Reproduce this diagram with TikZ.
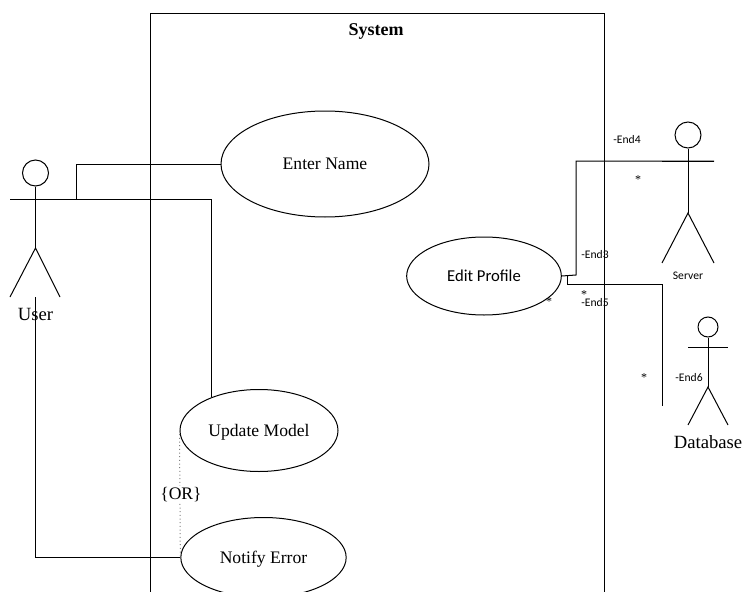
\documentclass[tikz,border=0pt]{standalone}
\usepackage{fontspec}
\setmainfont{Liberation Serif}
\newfontfamily\labelfont{Carlito}
\usepackage{tikz}
\usetikzlibrary{shapes.geometric,calc}

\begin{document}
\begin{tikzpicture}[
  x=0.75pt, y=-0.75pt,
  line width=0.75pt,
  usecase/.style={draw, ellipse, inner sep=0pt, align=center, text depth=0pt, font=\fontsize{13.2}{15}\selectfont},
  head/.style={draw, circle, inner sep=0pt},
  endlabel/.style={inner sep=0pt, font=\labelfont\fontsize{8.7}{10}\selectfont},
  star/.style={inner sep=0pt, font=\fontsize{9}{10}\selectfont},
  actorname/.style={inner sep=0pt, font=\fontsize{14}{16}\selectfont}
]
\useasboundingbox (0,0) rectangle (742,592);

% system boundary
\coordinate (sysbl) at (150,592);
\coordinate (systl) at (150,14);
\coordinate (systr) at (604,14);
\coordinate (sysbr) at (604,592);
\draw (sysbl) -- (systl) -- (systr) -- (sysbr);
\node[inner sep=0pt, font=\bfseries\fontsize{13.5}{15}\selectfont] (systitle) at (376,31) {System};

% use cases
\node[usecase, minimum width=156pt, minimum height=79.5pt] (enter) at (325,164) {Enter Name};
\node[usecase, minimum width=116pt, minimum height=58.5pt, font=\labelfont\fontsize{12.5}{14}\selectfont] (edit) at (484,276) {Edit Profile};
\node[usecase, minimum width=118.5pt, minimum height=61.5pt] (update) at (259,430.5) {Update Model};
\node[usecase, minimum width=124pt, minimum height=60pt] (notify) at (263.5,557.5) {Notify Error};

% user
\node[head, minimum size=19.5pt] (userhead) at (35.5,173) {};
\coordinate (userneck) at (35.5,199);
\coordinate (userhip) at (35.5,248);
\coordinate (userarml) at (10,199);
\coordinate (userarmr) at (60,199);
\coordinate (userlegl) at (10,297);
\coordinate (userlegr) at (60,297);
\draw (userhead) -- (userhip);
\draw (userarml) -- (userarmr);
\draw (userlegl) -- (userhip) -- (userlegr);
\node[actorname] (username) at (35.5,314) {User};

% server
\node[head, minimum size=19.5pt] (serverhead) at (688,135) {};
\coordinate (serverhip) at (688,213);
\coordinate (serverarml) at (662,161);
\coordinate (serverarmr) at (714,161);
\coordinate (serverlegl) at (662,263);
\coordinate (serverlegr) at (714,263);
\draw (serverhead) -- (serverhip);
\draw (serverarml) -- (serverarmr);
\draw (serverlegl) -- (serverhip) -- (serverlegr);
\node[endlabel] (servername) at (688,276) {Server};

% database
\node[head, minimum size=15pt] (dbhead) at (708,327) {};
\coordinate (dbhip) at (708,387);
\coordinate (dbarml) at (688,347);
\coordinate (dbarmr) at (728,347);
\coordinate (dblegl) at (688,425);
\coordinate (dblegr) at (728,425);
\draw (dbhead) -- (dbhip);
\draw (dbarml) -- (dbarmr);
\draw (dblegl) -- (dbhip) -- (dblegr);
\node[actorname] (dbname) at (708,442.5) {Database};

% associations
\coordinate (userfoot) at (35.5,297);
\coordinate (dbend) at (662,406);
\draw (userarmr) -| (76,164) -- (enter.west);
\draw (userarmr) -- (211,199) -- (211,397);
\draw (userfoot) |- (notify.west);
\draw (edit.east) -- (576,275) |- (serverarmr);
\draw (567,275) |- (662,284) -- (dbend);
\draw[dotted, gray] (update.west) -- (notify.west);
\node[fill=white, inner sep=1pt, font=\fontsize{13.2}{15}\selectfont] (ornote) at (181,494.5) {\{OR\}};

% association end labels
\node[endlabel] (end4) at (627,140) {-End4};
\node[star] (star4) at (638,180) {*};
\node[endlabel] (end3) at (595,255) {-End3};
\node[star] (star3) at (549,302) {*};
\node[star] (star5) at (584,295) {*};
\node[endlabel] (end5) at (595,303) {-End5};
\node[star] (star6) at (644,378) {*};
\node[endlabel] (end6) at (689,378) {-End6};
\end{tikzpicture}
\end{document}
